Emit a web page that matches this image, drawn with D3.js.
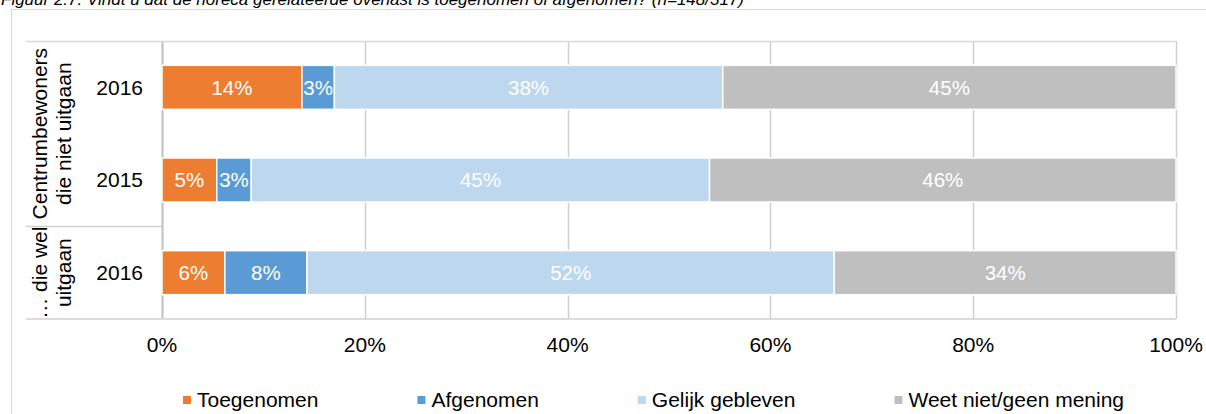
<!DOCTYPE html>
<html>
<head>
<meta charset="utf-8">
<script src="https://cdn.jsdelivr.net/npm/d3@7"></script>
<style>
  body { margin: 0; background: #fff; }
  svg { display: block; font-family: Arial, 'Liberation Sans', sans-serif; }
</style>
</head>
<body>
<div id="chart"></div>
<script>
// chart data
let rowIds = ['niet2016', 'niet2015', 'wel2016']
let rowYears = ['2016', '2015', '2016']
let groupLines = [['Centrumbewoners', 'die niet uitgaan'], ['\u2026 die wel', 'uitgaan']]
let groupRows = [2, 1]
let seriesNames = ['Toegenomen', 'Afgenomen', 'Gelijk gebleven', 'Weet niet/geen mening']
let toegenomen = [13.8, 5.4, 6.2]
let afgenomen = [3.2, 3.4, 8.1]
let gelijk = [38.3, 45.2, 52.0]
let weetNiet = [44.7, 46.0, 33.7]
let xTicks = [0, 20, 40, 60, 80, 100]
let colors = ['#ED7D31', '#5B9BD5', '#BDD7EE', '#BFBFBF']
let title = 'Figuur 2.7: Vindt u dat de horeca gerelateerde overlast is toegenomen of afgenomen? (n=148/317)'

let seriesValues = [toegenomen, afgenomen, gelijk, weetNiet]

// build table for d3.stack
let table = rowIds.map(function (id, i) {
  let row = { id: id }
  seriesNames.forEach(function (name, s) { row[name] = seriesValues[s][i] })
  return row
})
let stacked = d3.stack().keys(seriesNames)(table)

var width = 1206
var height = 414
var plotLeft = 162
var plotRight = 1176
var plotTop = 41
var plotBottom = 319
var fontSize = 20.5
var textSize = 21

var svg = d3.select('#chart')
  .append('svg')
  .attr('width', width)
  .attr('height', height)

var x = d3.scaleLinear()
  .domain([0, 100])
  .range([plotLeft, plotRight])

var y = d3.scaleBand()
  .domain(rowIds)
  .range([plotTop, plotBottom])
  .paddingInner(0.525)
  .paddingOuter(0.2625)

// title, cut off at the top of the picture like in the source
svg.append('text')
  .attr('x', 1)
  .attr('y', 5)
  .attr('font-size', 17)
  .attr('font-style', 'italic')
  .attr('fill', '#000')
  .text(title)

// outer chart border
svg.append('rect')
  .attr('x', 11.5)
  .attr('y', 9.5)
  .attr('width', width + 20)
  .attr('height', height + 20)
  .attr('fill', 'none')
  .attr('stroke', '#d9d9d9')

// vertical gridlines
svg.append('g')
  .selectAll('line')
  .data(xTicks)
  .enter()
  .append('line')
  .attr('x1', function (d) { return Math.round(x(d)) + 0.5 })
  .attr('x2', function (d) { return Math.round(x(d)) + 0.5 })
  .attr('y1', plotTop)
  .attr('y2', plotBottom)
  .attr('stroke', function (d) { return d === 0 ? '#bfbfbf' : '#d0d0d0' })
  .attr('stroke-width', function (d) { return d === 0 ? 2 : 1.5 })

// group boundaries for the category table
var groupBounds = [plotTop]
let acc = 0
groupRows.forEach(function (n) {
  acc += n
  let last = rowIds[acc - 1]
  if (acc < rowIds.length) {
    groupBounds.push((y(last) + y.bandwidth() + y(rowIds[acc])) / 2)
  } else {
    groupBounds.push(plotBottom)
  }
})

// top and bottom border of plot + category table lines
svg.append('line')
  .attr('x1', 26).attr('x2', plotRight)
  .attr('y1', plotTop + 0.5).attr('y2', plotTop + 0.5)
  .attr('stroke', '#d9d9d9').attr('stroke-width', 1.5)
svg.append('line')
  .attr('x1', 26).attr('x2', plotRight)
  .attr('y1', plotBottom).attr('y2', plotBottom)
  .attr('stroke', '#d0d0d0').attr('stroke-width', 1.5)
svg.append('g')
  .selectAll('line')
  .data(groupBounds.slice(1, -1))
  .enter()
  .append('line')
  .attr('x1', 26).attr('x2', plotLeft)
  .attr('y1', function (d) { return Math.round(d) + 0.5 })
  .attr('y2', function (d) { return Math.round(d) + 0.5 })
  .attr('stroke', '#d0d0d0').attr('stroke-width', 1.5)

// stacked bars
var layers = svg.append('g')
  .selectAll('g')
  .data(stacked)
  .enter()
  .append('g')
  .attr('fill', function (d, i) { return colors[i] })

layers.selectAll('rect')
  .data(function (d) { return d })
  .enter()
  .append('rect')
  .attr('x', function (d) { return x(d[0]) })
  .attr('y', function (d) { return y(d.data.id) })
  .attr('width', function (d) { return x(d[1]) - x(d[0]) })
  .attr('height', y.bandwidth())
  .attr('stroke', '#fff')
  .attr('stroke-width', 1.5)

// value labels inside segments
layers.selectAll('text')
  .data(function (d) { return d })
  .enter()
  .append('text')
  .attr('x', function (d) { return (x(d[0]) + x(d[1])) / 2 })
  .attr('y', function (d) { return y(d.data.id) + y.bandwidth() / 2 })
  .attr('dy', '0.35em')
  .attr('text-anchor', 'middle')
  .attr('font-size', fontSize)
  .attr('fill', '#fff')
  .text(function (d) { return Math.round(d[1] - d[0]) + '%' })

// year labels
svg.append('g')
  .selectAll('text')
  .data(rowIds)
  .enter()
  .append('text')
  .attr('x', 143)
  .attr('y', function (d) { return y(d) + y.bandwidth() / 2 })
  .attr('dy', '0.35em')
  .attr('text-anchor', 'end')
  .attr('font-size', textSize)
  .attr('fill', '#000')
  .text(function (d, i) { return rowYears[i] })

// rotated group labels
groupLines.forEach(function (lines, g) {
  let cy = (groupBounds[g] + groupBounds[g + 1]) / 2
  lines.forEach(function (line, k) {
    svg.append('text')
      .attr('transform', 'translate(' + (47 + k * 24) + ',' + cy + ') rotate(-90)')
      .attr('text-anchor', 'middle')
      .attr('font-size', textSize)
      .attr('fill', '#000')
      .text(line)
  })
})

// x axis tick labels
svg.append('g')
  .selectAll('text')
  .data(xTicks)
  .enter()
  .append('text')
  .attr('x', function (d) { return x(d) })
  .attr('y', 352)
  .attr('text-anchor', 'middle')
  .attr('font-size', textSize)
  .attr('fill', '#000')
  .text(function (d) { return d + '%' })

// legend, items laid out by text width
var legend = svg.append('g')
let lx = 183
seriesNames.forEach(function (name, i) {
  legend.append('rect')
    .attr('x', lx)
    .attr('y', 396)
    .attr('width', 8)
    .attr('height', 8)
    .attr('fill', colors[i])
  let t = legend.append('text')
    .attr('x', lx + 14)
    .attr('y', 407)
    .attr('font-size', textSize)
    .attr('fill', '#000')
    .text(name)
  lx = lx + 14 + t.node().getComputedTextLength() + 99
})
</script>
</body>
</html>
